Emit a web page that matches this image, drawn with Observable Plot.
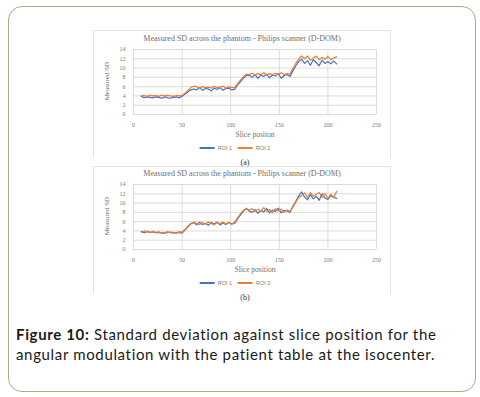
<!DOCTYPE html>
<html><head><meta charset="utf-8">
<script src="https://cdn.jsdelivr.net/npm/d3@7"></script>
<script src="https://cdn.jsdelivr.net/npm/@observablehq/plot@0.6"></script>
<style>
html,body{margin:0;padding:0;}
body{width:480px;height:397px;background:#fff;position:relative;overflow:hidden;}
#box{position:absolute;left:8px;top:6px;width:468px;height:386px;box-sizing:border-box;border:1.5px solid #b1a886;border-radius:14px;}
.frame{position:absolute;left:93px;width:298px;height:128px;box-sizing:border-box;border:1px solid #e4e4e4;border-bottom:none;}
.abs{position:absolute;white-space:nowrap;}
.title{font:8px "Liberation Serif";color:#6f6f6f;transform:translate(-50%,-50%);}
.xlab{font:7.5px "Liberation Serif";color:#6f6f6f;transform:translate(-50%,-50%);}
.ylab{font:7px "Liberation Serif";color:#6f6f6f;transform:translate(-50%,-50%) rotate(-90deg);}
.sub{font:8px "Liberation Serif";color:#333;transform:translate(-50%,-50%);}
.legend{font:5.5px "Liberation Sans";color:#7a7a7a;transform:translate(-50%,-50%);display:flex;align-items:center;gap:3px;}
.sw{display:inline-block;width:15px;height:1.3px;}
.plotwrap{position:absolute;left:93px;}
#caption{position:absolute;left:16px;top:325px;font:15px "Lato";line-height:19.5px;color:#1a1a1a;white-space:nowrap;}
</style></head>
<body>
<div id="box"></div>
<div class="frame" style="top:30px"></div>
<div class="frame" style="top:166px"></div>
<div id="root"></div>
<div id="caption"><span id="l1"><b>Figure 10:</b> Standard deviation against slice position for the</span><br><span id="l2">angular modulation with the patient table at the isocenter.</span></div>
<script>
const slices = [8,11,14,17,20,23,26,29,32,35,38,41,44,47,50,53,56,59,62,65,68,71,74,77,80,83,86,89,92,95,98,101,104,107,110,113,116,119,122,125,128,131,134,137,140,143,146,149,152,155,158,161,164,167,170,173,176,179,182,185,188,191,194,197,200,203,206,209];
const tickX = [0,50,100,150,200,250];
const tickY = [0,2,4,6,8,10,12,14];
const roiNames = ["ROI 1","ROI 2"];
const roiColors = ["#4472C4","#ED7D31"];
const chartTitle = "Measured SD across the phantom - Philips scanner (D-DOM)";
const yTitle = "Measured SD";
const xTitles = ["Slice positon","Slice position"];
const panelLabels = ["(a)","(b)"];

const aRoi1 = [3.9,3.6,3.8,3.7,3.6,3.8,3.7,3.5,3.8,3.6,3.5,3.7,3.8,3.6,
  3.9,
  4.4,4.9,5.3,5.5,5.3,5.8,5.2,5.6,5.5,5.1,5.7,5.4,5.8,5.2,5.6,5.7,5.3,5.4,
  6.3,7.1,7.8,8.4,8.5,8.0,8.6,7.8,8.5,8.2,8.7,7.9,8.5,8.3,8.8,7.8,8.4,8.6,8.2,
  9.4,10.5,11.4,11.9,11.0,11.6,10.6,11.8,11.2,10.5,11.7,11.0,11.4,10.9,11.5,10.9];
const aRoi2 = [4.0,4.1,3.9,4.2,4.0,4.1,3.9,4.2,4.0,4.1,4.0,3.9,4.1,4.0,
  4.1,
  4.6,5.2,5.8,6.1,6.0,5.7,6.0,5.8,5.9,5.7,6.1,5.8,5.9,6.1,5.7,6.0,5.8,5.8,
  6.6,7.4,8.1,8.7,8.6,8.9,8.5,8.8,8.6,9.0,8.5,8.8,8.6,8.9,8.6,9.0,8.6,8.8,8.7,
  9.9,11.0,12.0,12.6,12.0,12.6,11.7,12.2,12.6,11.8,12.3,11.9,12.5,11.8,12.2,12.4];
const bRoi1 = [3.9,3.6,3.9,3.7,3.8,3.6,3.7,3.6,3.5,3.8,3.6,3.7,3.5,3.8,
  3.7,
  4.3,5.0,5.6,5.8,5.3,5.9,5.4,5.6,5.2,5.8,5.5,5.9,5.3,5.7,5.4,5.8,5.5,5.6,
  6.6,7.4,8.2,8.8,8.3,8.0,8.6,7.8,8.4,8.1,8.8,7.9,8.5,8.2,8.9,7.9,8.4,8.3,8.0,
  9.3,10.4,11.5,12.4,11.3,10.7,11.8,10.9,11.5,10.6,12.0,11.1,10.8,11.6,11.2,11.0];
const bRoi2 = [3.7,4.0,3.8,3.6,3.9,3.7,3.8,3.5,3.7,3.6,3.8,3.5,3.7,3.6,
  3.5,
  4.2,4.9,5.5,5.9,5.6,5.4,5.8,5.5,5.9,5.6,5.3,5.8,5.6,5.9,5.5,5.8,5.4,5.9,
  6.8,7.7,8.4,8.9,8.5,8.8,8.2,8.7,8.3,9.0,8.2,8.6,7.9,8.8,8.3,8.7,8.0,8.5,8.2,
  9.1,10.2,11.2,11.6,12.2,11.2,12.2,11.5,11.9,12.3,11.2,12.1,11.0,11.9,11.2,12.5];

function makeChart(r1, r2) {
  const data = [];
  slices.forEach((s, i) => data.push({slice: s, sd: r1[i], roi: roiNames[0]}));
  slices.forEach((s, i) => data.push({slice: s, sd: r2[i], roi: roiNames[1]}));
  return Plot.plot({
    width: 298, height: 98,
    marginLeft: 40, marginRight: 15, marginTop: 7, marginBottom: 26,
    style: {fontFamily: "Liberation Serif", fontSize: "6px", color: "#7a7a7a", background: "transparent", overflow: "visible"},
    x: {domain: [0, 250], ticks: tickX, tickSize: 0, tickPadding: 8, label: null},
    y: {domain: [0, 14], ticks: tickY, tickSize: 0, tickPadding: 8, label: null},
    color: {domain: roiNames, range: roiColors},
    marks: [
      Plot.gridX(tickX, {stroke: "#dcdcdc", strokeOpacity: 1}),
      Plot.gridY(tickY, {stroke: "#dcdcdc", strokeOpacity: 1}),
      Plot.line(data, {x: "slice", y: "sd", z: "roi", stroke: "roi", strokeWidth: 1.2})
    ]
  });
}

const root = document.getElementById("root");
const panels = [[aRoi1, aRoi2, 0], [bRoi1, bRoi2, 135]];
panels.forEach(([r1, r2, dy], k) => {
  const wrap = document.createElement("div");
  wrap.className = "plotwrap";
  wrap.style.top = (42 + dy) + "px";
  wrap.appendChild(makeChart(r1, r2));
  root.appendChild(wrap);
  const add = (cls, x, y, html) => {
    const d = document.createElement("div");
    d.className = "abs " + cls;
    d.style.left = x + "px"; d.style.top = y + "px";
    d.innerHTML = html;
    root.appendChild(d);
  };
  add("title", 242, 38 + dy, chartTitle);
  add("ylab", 107, 81 + dy, yTitle);
  add("xlab", 255, 134 + dy, xTitles[k]);
  add("legend", 235, 148 + dy,
    `<span class="sw" style="background:${roiColors[0]}"></span><span>${roiNames[0]}</span><span class="sw" style="background:${roiColors[1]};margin-left:3px"></span><span>${roiNames[1]}</span>`);
  add("sub", 245, 162 + dy, panelLabels[k]);
});

// fit caption first line to the reference width
const l1 = document.getElementById("l1");
const w = l1.getBoundingClientRect().width;
const n = l1.textContent.length;
document.getElementById("caption").style.letterSpacing = ((421 - w) / n) + "px";
</script>
</body></html>
